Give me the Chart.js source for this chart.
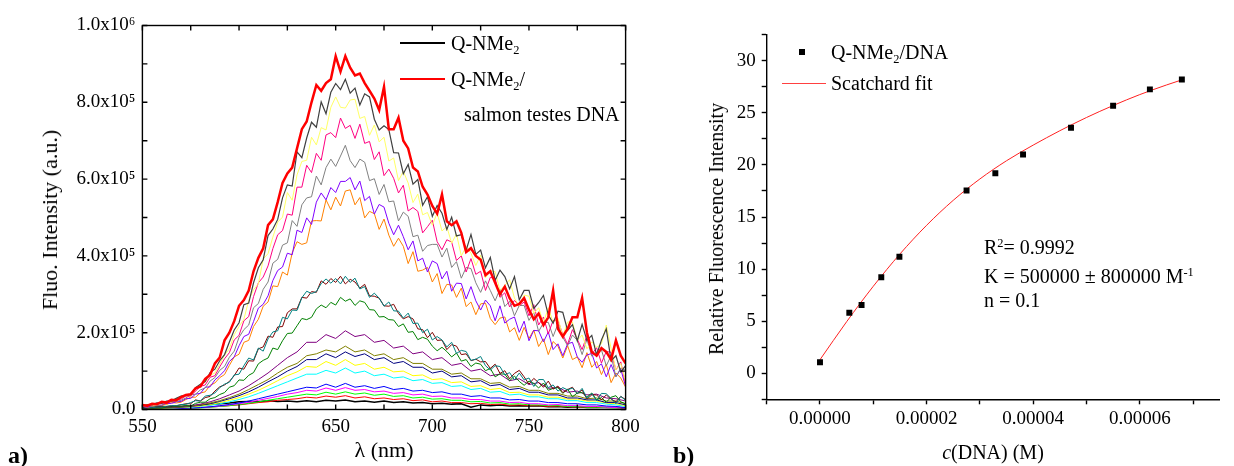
<!DOCTYPE html>
<html>
<head>
<meta charset="utf-8">
<script src="https://cdn.jsdelivr.net/npm/chart.js@4.4.1/dist/chart.umd.min.js"></script>
<style>
  body { margin: 0; background: #fff; }
  #page { position: relative; width: 1234px; height: 466px; overflow: hidden;
          font-family: "Liberation Serif", "Times New Roman", serif; color: #000; }
  canvas { position: absolute; top: 0; }
  .t { position: absolute; white-space: nowrap; line-height: 1; font-size: 19px; }
  .l { position: absolute; height: 0; }
  sub { font-size: 0.62em; vertical-align: -0.35em; line-height: 0; }
  sup { font-size: 0.62em; vertical-align: 0.6em; line-height: 0; }
</style>
</head>
<body>
<div id="page">
  <canvas id="left" width="660" height="466" style="left:0"></canvas>
  <canvas id="right" width="594" height="466" style="left:640px"></canvas>

  <!-- panel a texts -->
  <div class="t" style="left:50px;top:220px;transform:translate(-50%,-50%) rotate(-90deg);font-size:22px">Fluo. Intensity (a.u.)</div>
  <div class="t" style="left:384px;top:450px;transform:translate(-50%,-50%);font-size:22px">&lambda; (nm)</div>
  <div class="t" style="left:8px;top:455px;transform:translateY(-50%);font-weight:bold;font-size:24px">a)</div>
  <div class="l" style="left:400px;top:42px;width:45px;border-top:2px solid #000"></div>
  <div class="t" style="left:451px;top:43px;transform:translateY(-50%);font-size:20px">Q-NMe<sub>2</sub></div>
  <div class="l" style="left:400px;top:78px;width:45px;border-top:2px solid #ff0000"></div>
  <div class="t" style="left:451px;top:79px;transform:translateY(-50%);font-size:20px">Q-NMe<sub>2</sub>/</div>
  <div class="t" style="left:464px;top:114px;transform:translateY(-50%);font-size:20px">salmon testes DNA</div>

  <!-- panel b texts -->
  <div class="t" style="left:716px;top:229px;transform:translate(-50%,-50%) rotate(-90deg);font-size:20px">Relative Fluorescence Intensity</div>
  <div class="t" style="left:993px;top:452px;transform:translate(-50%,-50%);font-size:20px"><i>c</i>(DNA) (M)</div>
  <div class="t" style="left:673px;top:455px;transform:translateY(-50%);font-weight:bold;font-size:24px">b)</div>
  <div class="l" style="left:799px;top:49px;width:6px;height:6px;background:#000"></div>
  <div class="t" style="left:831px;top:52px;transform:translateY(-50%);font-size:20px">Q-NMe<sub>2</sub>/DNA</div>
  <div class="l" style="left:782px;top:83px;width:44px;border-top:1px solid #ff4040"></div>
  <div class="t" style="left:831px;top:83px;transform:translateY(-50%);font-size:20px">Scatchard fit</div>
  <div class="t" style="left:984px;top:247px;transform:translateY(-50%);font-size:20px">R<sup>2</sup>= 0.9992</div>
  <div class="t" style="left:984px;top:276px;transform:translateY(-50%);font-size:20px">K = 500000 &plusmn; 800000 M<sup>-1</sup></div>
  <div class="t" style="left:984px;top:300px;transform:translateY(-50%);font-size:20px">n = 0.1</div>
</div>

<script>
// ---- panel a: emission spectra, intensity in units of 1e5 a.u. ----
// strong spectra read every 2.5 nm, weak ones every 5 nm
const wavelengthsFine = [550,552.5,555,557.5,560,562.5,565,567.5,570,572.5,575,577.5,580,582.5,585,587.5,590,592.5,595,597.5,
  600,602.5,605,607.5,610,612.5,615,617.5,620,622.5,625,627.5,630,632.5,635,637.5,640,642.5,645,647.5,
  650,652.5,655,657.5,660,662.5,665,667.5,670,672.5,675,677.5,680,682.5,685,687.5,690,692.5,695,697.5,
  700,702.5,705,707.5,710,712.5,715,717.5,720,722.5,725,727.5,730,732.5,735,737.5,740,742.5,745,747.5,
  750,752.5,755,757.5,760,762.5,765,767.5,770,772.5,775,777.5,780,782.5,785,787.5,790,792.5,795,797.5,800];
const wavelengths = [550,555,560,565,570,575,580,585,590,595,600,605,610,615,620,625,630,635,640,645,650,
  655,660,665,670,675,680,685,690,695,700,705,710,715,720,725,730,735,740,745,750,755,760,765,770,775,780,785,790,795,800];

const dnaFinal = [.12,.1,.15,.14,.2,.18,.25,.24,.32,.38, .4,.55,.6,.8,.9,1.2,1.35,1.8,2.0,2.3,
  2.7,2.85,3.1,3.6,3.95,4.2,4.8,4.95,5.4,5.9, 6.15,6.3,6.8,7.3,7.5,8.0,8.45,8.3,8.5,8.6,
  9.2,8.8,9.2,8.9,8.7,8.75,8.5,8.3,8.1,7.8, 8.4,7.3,7.3,7.6,7.0,6.8,6.3,6.2,5.8,5.6,
  5.3,5.1,5.6,4.9,4.8,4.9,4.6,4.1,4.2,4.0, 3.9,3.5,3.6,3.3,3.0,3.2,2.9,2.7,2.75,2.9,
  2.6,2.35,2.5,2.2,2.4,3.1,2.1,1.9,2.1,2.4, 2.4,2.9,2.0,1.5,1.4,1.6,1.5,1.3,1.8,1.4, 1.2];
const darkGray = [.10,.12,.12,.17,.16,.22,.22,.29,.35,.37, .38,.57,.66,.73,.96,1.05,1.27,1.43,1.76,2.07,
  2.26,2.73,2.77,3.3,3.69,3.9,4.53,4.7,4.95,5.51, 5.85,5.82,6.71,6.56,7.07,7.48,7.35,8.01,7.7,8.26,
  8.49,8.33,8.6,8.24,8.37,7.93,8.22,8.14,7.56,7.28, 7.39,7.29,6.69,6.68,6.14,6.38,5.87,5.99,5.32,5.54,
  5.03,5.31,5.11,4.69,5.01,4.52,4.55,4.15,4.56,4.04, 4.15,3.69,3.96,3.36,3.63,3.46,3.14,3.46,2.86,3.1,
  3.1,2.63,2.78,2.97,2.46,2.25,2.56,2.53,2.06,2.21, 1.79,2.22,1.8,1.93,1.42,1.81,2.1,1.27,1.4,.98, 1.14];
const ltYellow = [.11,.13,.11,.12,.17,.19,.22,.29,.30,.37, .36,.54,.66,.71,.89,.95,1.18,1.42,1.58,1.95,
  2.16,2.35,2.84,3.12,3.27,3.92,4.06,4.49,4.88,5.01, 5.65,5.45,6.11,6.46,6.49,7.09,6.89,7.34,7.28,7.87,
  8.14,7.87,7.85,8.06,8.08,7.58,7.63,7.14,7.41,6.97, 7.09,6.47,6.55,5.96,6.2,5.9,5.39,5.61,5.07,5.13,
  4.8,5.12,4.65,4.76,4.33,4.57,4.0,4.24,4.07,3.75, 4.02,3.43,3.61,3.59,3.1,3.23,3.38,2.9,2.7,2.98,
  2.95,2.5,2.65,2.26,2.65,2.27,2.38,1.91,2.28,2.28, 1.8,1.94,1.58,1.76,1.62,1.71,2.2,1.59,1.03,1.2, .73];
const pink = [.09,.11,.10,.15,.15,.16,.22,.26,.27,.35, .35,.48,.60,.64,.84,.88,1.11,1.32,1.48,1.81,
  1.93,2.31,2.42,2.94,3.3,3.45,3.74,4.19,4.55,4.66, 5.09,5.06,5.79,5.79,6.36,6.17,6.67,6.49,7.15,7.21,
  7.08,7.59,7.32,7.4,7.06,7.43,6.93,6.98,6.51,6.71, 6.09,6.26,6.02,5.64,5.84,5.17,5.26,5.16,4.6,4.76,
  4.93,4.37,4.16,4.42,4.36,3.88,4.0,3.58,3.93,3.52, 3.6,3.1,3.44,3.42,2.92,3.04,2.67,2.84,2.7,2.8,
  2.44,2.73,2.2,2.41,1.97,2.32,2.32,1.95,1.7,2.08, 1.83,1.56,1.93,1.44,1.61,1.21,1.51,1.49,1.03,1.24, .66];
const gray = [.07,.11,.09,.11,.11,.17,.21,.21,.24,.3, .38,.4,.51,.56,.74,.83,1.02,1.12,1.36,1.52,
  1.88,2.08,2.2,2.65,2.76,3.13,3.32,3.81,3.91,4.28, 4.34,4.92,4.77,5.33,5.51,5.54,6.08,5.85,6.3,6.52,
  6.33,6.6,6.88,6.48,6.3,6.52,6.44,5.96,6.01,5.6, 5.86,5.41,5.43,4.91,5.14,5.03,4.5,4.54,4.12,4.27,
  4.3,4.3,3.97,4.2,3.7,3.85,3.42,3.7,3.67,3.3, 3.05,3.35,3.1,2.83,3.14,2.68,2.82,2.44,2.71,2.71,
  2.32,2.53,2.03,2.26,2.27,1.9,2.23,1.88,1.66,1.94, 1.8,1.43,1.83,1.39,1.49,1.55,1.14,1.4,.85,1.08, 1.02];
const violet = [.08,.06,.1,.11,.11,.16,.16,.2,.21,.28, .29,.4,.42,.58,.59,.77,.88,1.01,1.25,1.37,
  1.66,1.9,1.96,2.29,2.64,2.74,2.96,3.36,3.62,3.71, 4.07,4.03,4.67,4.61,4.99,4.82,5.4,5.64,5.46,5.78,
  5.65,5.94,5.94,6.04,5.72,5.95,5.44,5.55,5.09,5.34, 5.27,4.85,4.55,4.8,4.5,4.16,4.39,3.87,3.94,3.58,
  3.87,3.8,3.4,3.6,3.08,3.29,3.28,2.88,3.2,2.83, 2.59,2.85,2.7,2.31,2.7,2.25,2.35,2.41,2.01,2.3,
  1.79,2.06,2.05,1.76,2.02,1.56,1.71,1.4,1.71,1.75, 1.37,1.23,1.42,1.46,1.08,1.19,.85,1.17,.86,1.05, .6];
const orange = [.09,.05,.09,.11,.10,.13,.18,.17,.19,.26, .32,.32,.43,.46,.63,.69,.83,.91,1.15,1.37,
  1.44,1.75,1.8,2.16,2.35,2.69,2.8,3.22,3.2,3.58, 3.5,4.08,4.37,4.3,4.34,4.91,4.92,4.91,5.46,5.2,
  5.53,5.3,5.69,5.72,5.33,5.52,4.99,5.16,5.1,4.69, 4.96,4.54,4.25,4.46,4.25,3.8,4.11,3.6,3.63,3.7,
  3.32,3.54,3.02,3.26,3.24,2.92,3.16,2.68,2.8,2.47, 2.75,2.77,2.37,2.21,2.38,2.41,2.02,2.13,1.8,2.14,
  1.85,2.07,1.64,1.84,1.43,1.77,1.65,1.34,1.66,1.3, 1.37,1.09,1.48,1.1,1.25,.91,1.18,.7,.95,.82, .58];
const darkCyan = [.03,.055,.045,.064,.062,.086,.099,.101,.127,.135, .18,.23,.22,.35,.37,.43,.57,.66,.71,.9,
  .92,1.14,1.34,1.29,1.6,1.52,1.84,2.02,2.05,2.4, 2.36,2.59,2.58,2.91,3.08,3.02,3.07,3.28,3.4,3.29,
  3.41,3.27,3.47,3.31,3.42,3.14,3.2,2.92,3.03,2.9, 2.69,2.8,2.57,2.56,2.38,2.51,2.24,2.25,2.0,2.09,
  1.81,1.9,1.81,1.63,1.75,1.46,1.54,1.51,1.28,1.31, 1.38,1.14,1.03,1.14,1.12,.9,.96,.77,.95,.77,
  .82,.6,.78,.78,.57,.64,.48,.57,.51,.56, .41,.55,.29,.42,.23,.42,.41,.29,.15,.34, .24];
const wine = [.03,.055,.045,.062,.077,.074,.098,.095,.123,.15, .15,.25,.22,.31,.34,.48,.59,.64,.73,.88,
  1.08,1.05,1.27,1.26,1.58,1.63,1.91,1.88,2.15,2.16, 2.52,2.62,2.62,2.92,2.9,3.07,3.05,3.35,3.26,3.41,
  3.31,3.47,3.27,3.39,3.32,3.16,3.26,2.96,2.95,2.9, 2.7,2.69,2.74,2.5,2.36,2.42,2.36,2.1,2.08,1.87,
  2.01,1.8,1.81,1.56,1.69,1.65,1.43,1.45,1.27,1.31, 1.24,1.25,1.07,1.18,.94,1.01,.8,.94,1.02,.85,
  .66,.81,.7,.58,.74,.53,.61,.44,.52,.58, .41,.51,.27,.38,.38,.25,.38,.27,.2,.34, .26];
const darkGreen = [.038,.042,.033,.044,.041,.066,.065,.085,.082,.104, .09,.16,.19,.19,.28,.31,.39,.44,.58,.62,
  .77,.76,.89,.96,1.19,1.28,1.34,1.6,1.56,1.79, 1.98,1.99,2.18,2.37,2.34,2.4,2.62,2.72,2.65,2.79,
  2.72,2.92,2.82,2.88,2.71,2.83,2.79,2.6,2.59,2.41, 2.42,2.34,2.33,2.16,2.23,2.01,2.03,1.82,1.88,1.83,
  1.65,1.53,1.62,1.51,1.37,1.47,1.26,1.3,1.12,1.21, 1.18,1.01,1.07,.85,.93,.92,.75,.87,.73,.63,
  .74,.68,.56,.69,.5,.55,.57,.42,.53,.33, .43,.44,.32,.43,.25,.31,.19,.32,.36,.2, .15];

const purple     = [0.03,0.04,0.05,0.06,0.08,0.1,0.14,0.2,0.28,0.38,0.48,0.62,0.78,0.95,1.15,1.35,1.5,1.75,1.75,1.95,1.85,2.05,1.9,1.95,1.75,1.8,1.6,1.65,1.45,1.5,1.3,1.35,1.15,1.2,1.0,1.05,0.88,0.92,0.75,0.8,0.65,0.7,0.55,0.58,0.45,0.48,0.38,0.4,0.3,0.28,0.22];
const darkYellow = [0.03,0.03,0.04,0.05,0.07,0.09,0.12,0.17,0.23,0.31,0.4,0.52,0.65,0.78,0.95,1.1,1.2,1.4,1.45,1.55,1.5,1.65,1.5,1.55,1.4,1.45,1.3,1.35,1.2,1.2,1.05,1.05,0.92,0.95,0.8,0.8,0.68,0.7,0.58,0.6,0.5,0.5,0.42,0.42,0.35,0.35,0.28,0.3,0.22,0.22,0.15];
const navy       = [0.02,0.03,0.04,0.05,0.06,0.08,0.11,0.15,0.21,0.28,0.36,0.46,0.58,0.72,0.85,1.0,1.12,1.3,1.3,1.45,1.35,1.5,1.38,1.45,1.3,1.35,1.2,1.25,1.1,1.1,0.95,1.0,0.85,0.88,0.72,0.75,0.62,0.65,0.52,0.55,0.45,0.45,0.38,0.38,0.3,0.3,0.25,0.25,0.18,0.18,0.12];
const yellow     = [0.02,0.02,0.03,0.04,0.05,0.07,0.09,0.13,0.18,0.24,0.31,0.4,0.5,0.62,0.75,0.88,0.98,1.12,1.1,1.25,1.15,1.3,1.15,1.2,1.05,1.1,0.98,1.0,0.88,0.9,0.78,0.8,0.7,0.72,0.6,0.62,0.52,0.55,0.44,0.45,0.38,0.38,0.32,0.32,0.27,0.27,0.22,0.22,0.17,0.15,0.1];
const cyan       = [0.02,0.02,0.03,0.04,0.05,0.06,0.08,0.11,0.15,0.2,0.26,0.33,0.42,0.52,0.62,0.72,0.82,0.92,0.92,1.02,0.95,1.08,0.95,1.0,0.88,0.92,0.82,0.85,0.75,0.78,0.68,0.7,0.6,0.62,0.52,0.55,0.45,0.47,0.38,0.4,0.33,0.33,0.28,0.28,0.23,0.23,0.18,0.18,0.14,0.12,0.08];
const blue       = [0.01,0.02,0.02,0.03,0.03,0.04,0.05,0.07,0.1,0.13,0.17,0.22,0.28,0.34,0.4,0.46,0.52,0.58,0.56,0.66,0.58,0.68,0.58,0.62,0.55,0.6,0.52,0.55,0.48,0.5,0.44,0.46,0.4,0.4,0.34,0.36,0.3,0.3,0.25,0.26,0.22,0.22,0.18,0.18,0.15,0.15,0.12,0.12,0.09,0.08,0.05];
const magenta    = [0.01,0.01,0.02,0.02,0.03,0.04,0.05,0.07,0.09,0.12,0.15,0.19,0.24,0.29,0.34,0.4,0.44,0.5,0.48,0.56,0.5,0.57,0.5,0.52,0.46,0.48,0.42,0.44,0.38,0.4,0.34,0.35,0.3,0.3,0.26,0.26,0.22,0.22,0.18,0.19,0.15,0.15,0.12,0.13,0.1,0.1,0.08,0.08,0.06,0.05,0.03];
const lime       = [0.01,0.01,0.02,0.02,0.03,0.03,0.04,0.06,0.08,0.1,0.13,0.16,0.2,0.24,0.28,0.32,0.36,0.4,0.38,0.45,0.4,0.46,0.4,0.43,0.37,0.4,0.34,0.36,0.3,0.32,0.27,0.28,0.24,0.24,0.2,0.21,0.17,0.18,0.14,0.15,0.12,0.12,0.1,0.1,0.08,0.08,0.06,0.06,0.05,0.04,0.03];
const redThin    = [0.02,0.02,0.02,0.03,0.03,0.04,0.05,0.06,0.08,0.1,0.12,0.15,0.18,0.2,0.24,0.26,0.28,0.32,0.3,0.35,0.32,0.36,0.3,0.33,0.28,0.3,0.26,0.28,0.23,0.25,0.2,0.22,0.18,0.18,0.15,0.16,0.13,0.14,0.11,0.12,0.1,0.1,0.08,0.09,0.07,0.07,0.06,0.06,0.05,0.05,0.04];
const freeDye    = [0.06,0.06,0.07,0.07,0.08,0.09,0.11,0.13,0.15,0.17,0.2,0.21,0.2,0.23,0.21,0.22,0.2,0.23,0.2,0.24,0.22,0.25,0.2,0.22,0.19,0.22,0.18,0.2,0.17,0.18,0.15,0.16,0.14,0.15,0.06,0.12,0.1,0.12,0.09,0.1,0.09,0.1,0.07,0.08,0.06,0.07,0.05,0.06,0.05,0.05,0.04];

// ---- panel b: titration points and Scatchard fit ----
const dnaConc = [0, 0.55e-5, 0.78e-5, 1.15e-5, 1.49e-5, 2.75e-5, 3.29e-5, 3.81e-5, 4.71e-5, 5.50e-5, 6.19e-5, 6.79e-5];
const relFluo = [1.06, 5.8, 6.56, 9.22, 11.18, 17.55, 19.2, 21.0, 23.57, 25.68, 27.25, 28.2];
const fitConc = [0, 0.5e-5, 1e-5, 1.5e-5, 2e-5, 2.5e-5, 3e-5, 3.5e-5, 4e-5, 4.5e-5, 5e-5, 5.5e-5, 6e-5, 6.5e-5, 6.8e-5];
const fitFluo = [1.3, 4.95, 8.35, 11.45, 14.2, 16.6, 18.65, 20.4, 21.9, 23.28, 24.55, 25.7, 26.75, 27.67, 28.18];

Chart.defaults.font.family = '"Liberation Serif", "Times New Roman", serif';
Chart.defaults.font.size = 19;
Chart.defaults.color = '#000';

// top first: dataset 0 is drawn last
const F = wavelengthsFine, C = wavelengths;
const spectra = [
  [F, dnaFinal, '#ff0000', 2.5],
  [F, darkGray, '#404040', 1.2],
  [F, ltYellow, '#ffff66', 1],
  [F, pink, '#ff0080', 1],
  [F, gray, '#808080', 1],
  [F, violet, '#8000ff', 1],
  [F, orange, '#ff8000', 1],
  [F, darkCyan, '#008080', 1],
  [F, wine, '#800000', 1],
  [F, darkGreen, '#008000', 1],
  [C, purple, '#800080', 1],
  [C, darkYellow, '#808000', 1],
  [C, navy, '#000080', 1],
  [C, yellow, '#ffff00', 1],
  [C, cyan, '#00ffff', 1],
  [C, blue, '#0000ff', 1],
  [C, magenta, '#ff00ff', 1],
  [C, lime, '#00ff00', 1],
  [C, redThin, '#ff0000', 1],
  [C, freeDye, '#000000', 1.5]
];

const frameTicks = {
  id: 'frameTicks',
  afterDraw(chart) {
    const { ctx, chartArea: a, scales: { x, y } } = chart;
    ctx.save();
    ctx.strokeStyle = '#000';
    ctx.lineWidth = 1.4;
    ctx.strokeRect(a.left, a.top, a.right - a.left, a.bottom - a.top);
    ctx.beginPath();
    x.ticks.forEach(t => {
      const px = x.getPixelForValue(t.value);
      ctx.moveTo(px, a.bottom); ctx.lineTo(px, a.bottom - 5);
      ctx.moveTo(px, a.top); ctx.lineTo(px, a.top + 5);
    });
    y.ticks.forEach(t => {
      const py = y.getPixelForValue(t.value);
      ctx.moveTo(a.left, py); ctx.lineTo(a.left + 5, py);
      ctx.moveTo(a.right, py); ctx.lineTo(a.right - 5, py);
    });
    ctx.stroke();
    ctx.restore();
  }
};

new Chart(document.getElementById('left'), {
  type: 'line',
  data: {
    datasets: spectra.map(([xs, vals, color, w]) => ({
      data: vals.map((v, i) => ({ x: xs[i], y: v })),
      borderColor: color,
      borderWidth: w,
      pointRadius: 0,
      fill: false,
      tension: 0
    }))
  },
  options: {
    responsive: false,
    animation: false,
    layout: { padding: { top: 25.5, right: 34.4, left: 0, bottom: 0 } },
    plugins: { legend: { display: false }, tooltip: { enabled: false } },
    scales: {
      x: {
        type: 'linear', min: 550, max: 800,
        grid: { display: false, drawTicks: false },
        border: { display: false },
        ticks: { stepSize: 25, padding: 6, maxRotation: 0, autoSkip: false,
                 callback: v => (v % 50 === 0 ? String(v) : '') },
        afterFit: s => { s.height = 56.5; }
      },
      y: {
        min: 0, max: 10,
        grid: { display: false, drawTicks: false },
        border: { display: false },
        ticks: { stepSize: 1, padding: 7, autoSkip: false,
                 callback: v => {
                   if (v % 2 !== 0) return '';
                   if (v === 0) return '0.0';
                   if (v === 10) return '1.0x10\u2076';
                   return v.toFixed(1) + 'x10\u2075';
                 } },
        afterFit: s => { s.width = 142.4; }
      }
    }
  },
  plugins: [frameTicks]
});

new Chart(document.getElementById('right'), {
  type: 'scatter',
  data: {
    datasets: [
      {
        data: dnaConc.map((c, i) => ({ x: c, y: relFluo[i] })),
        pointStyle: 'rect', pointRadius: 4.2,
        backgroundColor: '#000', borderColor: '#000', borderWidth: 0
      },
      {
        type: 'line',
        data: fitConc.map((c, i) => ({ x: c, y: fitFluo[i] })),
        borderColor: '#ff2020', borderWidth: 1,
        pointRadius: 0, cubicInterpolationMode: 'monotone'
      }
    ]
  },
  options: {
    responsive: false,
    animation: false,
    layout: { padding: { top: 34.7, right: 14.3, left: 0, bottom: 0 } },
    plugins: { legend: { display: false }, tooltip: { enabled: false } },
    scales: {
      x: {
        type: 'linear', min: -1e-5, max: 7.5e-5,
        grid: { drawOnChartArea: false, tickLength: 5, tickColor: '#000', tickWidth: 1.4 },
        border: { color: '#000', width: 1.4 },
        ticks: { stepSize: 1e-5, includeBounds: false, padding: 3, maxRotation: 0, autoSkip: false,
                 callback: v => {
                   const k = Math.round(v * 1e5);
                   return k % 2 === 0 ? (k * 1e-5).toFixed(5) : '';
                 } },
        afterFit: s => { s.height = 66.7; }
      },
      y: {
        min: -2.5, max: 32.5,
        grid: { drawOnChartArea: false, tickLength: 5, tickColor: '#000', tickWidth: 1.4 },
        border: { color: '#000', width: 1.4 },
        ticks: { stepSize: 2.5, padding: 6, autoSkip: false,
                 callback: v => (Math.abs(v % 5) < 1e-9 ? String(v) : '') },
        afterFit: s => { s.width = 126.7; }
      }
    }
  }
});
</script>
</body>
</html>
